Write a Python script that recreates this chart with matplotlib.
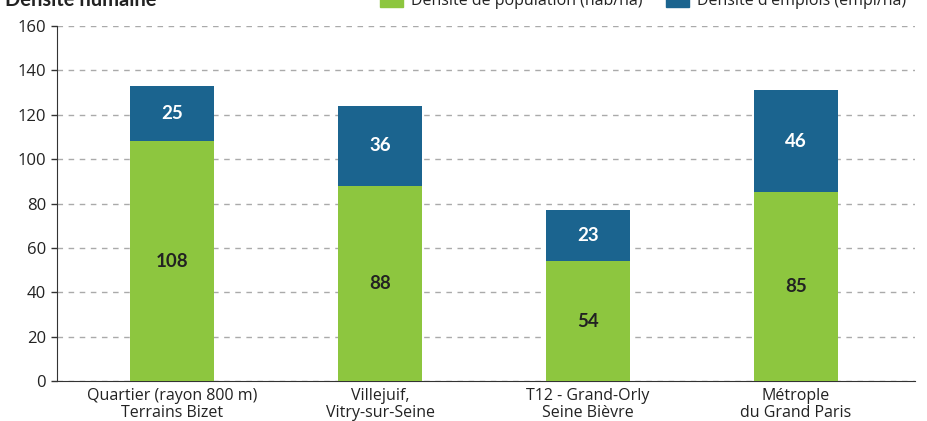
import matplotlib
matplotlib.use("Agg")
import matplotlib.pyplot as plt
from matplotlib import font_manager as fm
from matplotlib.patches import Rectangle
import numpy as np

categories = ["Quartier (rayon 800 m)\nTerrains Bizet", "Villejuif,\nVitry-sur-Seine",
              "T12 - Grand-Orly\nSeine Bièvre", "Métrople\ndu Grand Paris"]
population = [108, 88, 54, 85]
emplois = [25, 36, 23, 46]
series_names = ["Densité de population (hab/ha)", "Densité d'emplois (empl/ha)"]
title = "Densité humaine"

names = {f.name for f in fm.fontManager.ttflist}
narrow = "Open Sans" if "Open Sans" in names else "DejaVu Sans"
main = "Lato" if "Lato" in names else "DejaVu Sans"

green = "#8DC63F"
blue = "#1B648F"

fig = plt.figure(figsize=(9.28, 4.21), dpi=100)
ax = fig.add_axes([57/928, 40/421, (915-57)/928, (381-26)/421])

x = np.arange(len(categories))
w = 0.404
ax.bar(x, population, w, color=green, zorder=3)
ax.bar(x, emplois, w, bottom=population, color=blue, zorder=3)

for xi, p, e in zip(x, population, emplois):
    ax.text(xi, p/2, str(p), ha="center", va="center", fontsize=13.5,
            fontweight="bold", color="#222222", family=main, zorder=4)
    ax.text(xi, p + e/2, str(e), ha="center", va="center", fontsize=13.5,
            fontweight="bold", color="white", family=main, zorder=4)

ax.set_xlim(-0.553, 3.572)
ax.set_ylim(0, 160)
ax.set_yticks(range(0, 161, 20))
ax.set_xticks(x)
ax.set_xticklabels(categories, family=narrow, fontsize=11.5, color="#222222", linespacing=1.05)
for lab in ax.get_yticklabels():
    lab.set_family(narrow)
    lab.set_fontsize(12)
    lab.set_color("#222222")
ax.yaxis.grid(True, linestyle=(0, (4, 4)), color="#aaaaaa", linewidth=1, zorder=0)
ax.spines["top"].set_visible(False)
ax.spines["right"].set_visible(False)
ax.spines["left"].set_color("#333333")
ax.spines["bottom"].set_color("#333333")
ax.tick_params(axis="y", length=4, width=1, color="#333333", pad=4)
ax.tick_params(axis="x", length=0, pad=5)

# title and legend (partly cut at the top, as in the reference)
fig.text(5/928, 1 - 6/421, title, fontsize=14.5, fontweight="bold", family=main,
         color="#222222", ha="left", va="baseline")
fig.patches.append(Rectangle((380/928, 1 - 7/421), 23/928, 14/421, transform=fig.transFigure,
                             color=green, figure=fig))
fig.text(411/928, 1 - 5/421, series_names[0], fontsize=11.5, family=narrow, color="#222222",
         ha="left", va="baseline")
fig.patches.append(Rectangle((666/928, 1 - 7/421), 23/928, 14/421, transform=fig.transFigure,
                             color=blue, figure=fig))
fig.text(697/928, 1 - 5/421, series_names[1], fontsize=11.5, family=narrow, color="#222222",
         ha="left", va="baseline")

fig.savefig("out.png", dpi=100)
